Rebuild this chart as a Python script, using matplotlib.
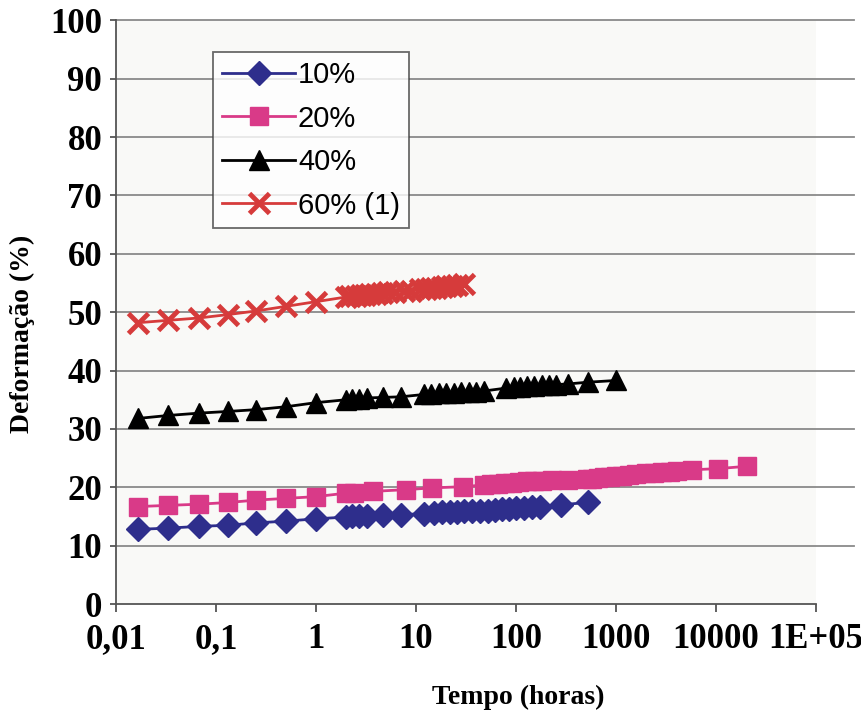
import matplotlib
matplotlib.use('Agg')
import matplotlib.pyplot as plt
from matplotlib.ticker import FixedLocator, FixedFormatter, NullLocator

# Tempos (horas) e deformações (%)
t10 = [0.0167, 0.033, 0.067, 0.133, 0.25, 0.5, 1, 2, 2.3, 2.7, 3.2, 4.7, 7, 12, 15, 18, 22, 26, 30,
       36, 44, 52, 62, 72, 85, 100, 120, 145, 175, 280, 520]
d10 = [12.8, 13.0, 13.3, 13.5, 13.9, 14.2, 14.6, 14.9, 15.0, 15.0, 15.1, 15.2, 15.3, 15.5, 15.6, 15.7,
       15.7, 15.8, 15.9, 15.9, 16.0, 16.0, 16.1, 16.2, 16.3, 16.4, 16.5, 16.6, 16.7, 17.0, 17.4]

t20 = [0.0167, 0.033, 0.067, 0.133, 0.25, 0.5, 1, 2, 2.4, 3.7, 8, 14.5, 29.5, 48, 56, 66, 78, 92, 108,
       128, 150, 180, 230, 330, 510, 580, 660, 760, 880, 1000, 1150, 1350, 1600, 2000, 2400, 2900,
       3500, 4100, 5800, 10500, 20500]
d20 = [16.7, 16.9, 17.1, 17.4, 17.8, 18.1, 18.4, 19.0, 19.1, 19.3, 19.6, 19.9, 20.1, 20.4, 20.5, 20.6,
       20.7, 20.8, 20.9, 21.0, 21.0, 21.1, 21.2, 21.3, 21.4, 21.5, 21.6, 21.7, 21.8, 21.9, 22.0, 22.1,
       22.2, 22.4, 22.5, 22.6, 22.7, 22.8, 23.0, 23.2, 23.6]

t40 = [0.0167, 0.033, 0.067, 0.133, 0.25, 0.5, 1, 2, 2.3, 2.7, 3.2, 4.7, 7, 12, 14, 17, 20, 24, 28,
       34, 40, 48, 80, 95, 110, 130, 150, 180, 215, 250, 330, 520, 1000]
d40 = [31.8, 32.3, 32.7, 33.0, 33.3, 33.8, 34.5, 35.0, 35.1, 35.2, 35.3, 35.4, 35.5, 35.9, 36.0, 36.1,
       36.1, 36.2, 36.3, 36.3, 36.4, 36.5, 37.0, 37.1, 37.2, 37.3, 37.4, 37.5, 37.6, 37.6, 37.7, 38.0,
       38.3]

t60 = [0.0167, 0.033, 0.067, 0.133, 0.25, 0.5, 1, 2, 2.2, 2.5, 2.8, 3.1, 3.5, 4, 4.6, 5.3, 6.2, 7.5,
       9, 11, 12.5, 14, 16, 18, 20, 23, 26, 30]
d60 = [48.2, 48.6, 49.0, 49.6, 50.2, 51.0, 51.8, 52.6, 52.7, 52.8, 52.9, 53.0, 53.1, 53.2, 53.3, 53.4,
       53.5, 53.6, 53.7, 53.9, 54.0, 54.1, 54.2, 54.3, 54.4, 54.5, 54.6, 54.8]

xticks = [0.01, 0.1, 1, 10, 100, 1000, 10000, 100000]
xlabels = ['0,01', '0,1', '1', '10', '100', '1000', '10000', '1E+05']
yticks = list(range(0, 101, 10))

fig = plt.figure(figsize=(8.62, 7.26), dpi=100)
ax = fig.add_axes([0.1346, 0.168, 0.812, 0.804])
ax.set_facecolor('#f9f9f7')

# linhas de grade (passam um pouco da borda direita, como no original)
for y in yticks[1:]:
    ax.plot([0, 1.055], [y / 100, y / 100], transform=ax.transAxes, color='#8a8a8a',
            lw=1.3, clip_on=False, zorder=0)

ax.plot(t10, d10, color='#2e2e8c', marker='D', markersize=12, lw=2, label='10%', zorder=3)
ax.plot(t20, d20, color='#d93a88', marker='s', markersize=13, lw=2, label='20%', zorder=3)
ax.plot(t40, d40, color='black', marker='^', markersize=15, lw=2, label='40%', zorder=3)
ax.plot(t60, d60, color='#d63b3b', marker='x', markersize=14, markeredgewidth=3.5, lw=2,
        label='60% (1)', zorder=3)

ax.set_xscale('log')
ax.set_xlim(0.01, 100000)
ax.set_ylim(0, 100)
ax.xaxis.set_major_locator(FixedLocator(xticks))
ax.xaxis.set_major_formatter(FixedFormatter(xlabels))
ax.xaxis.set_minor_locator(NullLocator())
ax.set_yticks(yticks)

for s in ['top', 'right']:
    ax.spines[s].set_visible(False)
for s in ['left', 'bottom']:
    ax.spines[s].set_color('#555555')
    ax.spines[s].set_linewidth(1.3)

for lab in ax.get_xticklabels() + ax.get_yticklabels():
    lab.set_fontfamily('Liberation Serif')
    lab.set_fontweight('bold')
    lab.set_fontsize(25)
ax.tick_params(axis='x', direction='out', length=6, width=1.3, color='#555555', pad=8)
ax.tick_params(axis='y', direction='out', length=4, width=1.3, color='#555555', pad=6)

ax.set_xlabel('Tempo (horas)', fontfamily='Liberation Serif', fontweight='bold', fontsize=20)
ax.xaxis.set_label_coords(0.574, -0.139)
ax.set_ylabel('Deformação (%)', fontfamily='Liberation Serif', fontweight='bold', fontsize=20,
              va='center')
ax.yaxis.set_label_coords(-0.134, 0.462)

leg = ax.legend(loc='upper left', bbox_to_anchor=(0.139, 0.945), borderaxespad=0,
                frameon=True, fancybox=False, edgecolor='#444444', handlelength=2.5,
                handletextpad=0.1, labelspacing=0.53, borderpad=0.3,
                prop={'family': 'Liberation Sans', 'size': 21})
leg.get_frame().set_linewidth(1.3)
leg.get_frame().set_facecolor('white')

plt.savefig('out.png', dpi=100)
